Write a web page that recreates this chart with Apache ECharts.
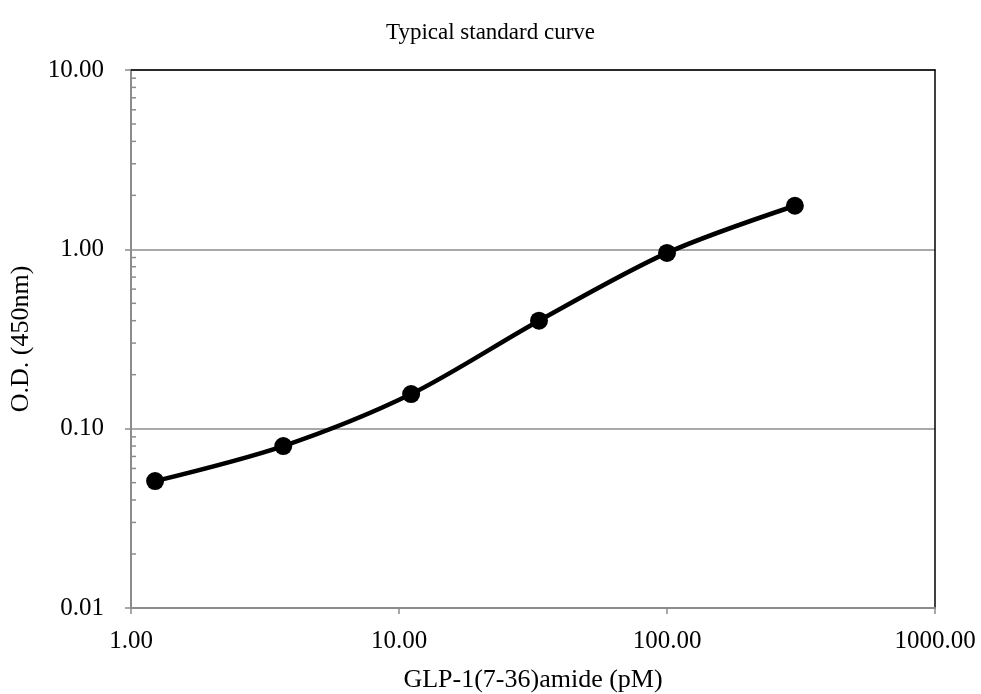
<!DOCTYPE html>
<html>
<head>
<meta charset="utf-8">
<script src="https://cdn.jsdelivr.net/npm/echarts@6/dist/echarts.min.js"></script>
<style>
  html, body { margin: 0; padding: 0; background: #fff; }
  #chart { width: 981px; height: 694px; }
</style>
</head>
<body>
<div id="chart"></div>
<script>
const concentration = [1.23, 3.70, 11.1, 33.3, 100, 300];   // pM
const odValues = [0.051, 0.080, 0.156, 0.40, 0.955, 1.75];  // O.D. 450nm
const yDecades = [0.01, 0.1, 1];

// minor ticks on the y axis (2..9 of each decade)
const minorTicks = [];
yDecades.forEach(d => {
    for (let k = 2; k <= 9; k++) minorTicks.push([1, d * k]);
});

const serif = '"Liberation Serif", "DejaVu Serif", serif';
const grey = '#8c8c8c';
const fmt = v => Number(v).toFixed(2);

const chart = echarts.init(document.getElementById('chart'));

chart.setOption({
    animation: false,
    title: {
        text: 'Typical standard curve',
        left: 'center',
        top: 16,
        textStyle: { fontFamily: serif, fontSize: 23, fontWeight: 'normal', color: '#000' }
    },
    grid: { left: 131, right: 46, top: 70, bottom: 86, outerBoundsMode: 'none', containLabel: false },
    xAxis: [
        {
            type: 'log',
            logBase: 10,
            min: 1,
            max: 1000,
            name: 'GLP-1(7-36)amide (pM)',
            nameLocation: 'middle',
            nameGap: 59,
            nameTextStyle: { fontFamily: serif, fontSize: 26, color: '#000' },
            axisLine: { lineStyle: { color: grey, width: 2 } },
            axisTick: { length: 6, lineStyle: { color: grey, width: 1.5 } },
            axisLabel: { margin: 21, fontFamily: serif, fontSize: 25, color: '#000', formatter: fmt },
            splitLine: { show: false }
        },
        {
            type: 'log', logBase: 10, min: 1, max: 1000, position: 'top',
            axisLine: { lineStyle: { color: '#000', width: 1.5 } },
            axisTick: { show: false }, axisLabel: { show: false }, splitLine: { show: false }
        }
    ],
    yAxis: [
        {
            type: 'log',
            logBase: 10,
            min: 0.01,
            max: 10,
            name: 'O.D. (450nm)',
            nameLocation: 'middle',
            nameGap: 97,
            nameRotate: 90,
            nameTextStyle: { fontFamily: serif, fontSize: 26, color: '#000' },
            axisLine: { lineStyle: { color: grey, width: 2 } },
            axisTick: { length: 6, lineStyle: { color: grey, width: 1.5 } },
            axisLabel: { margin: 27, fontFamily: serif, fontSize: 25, color: '#000', formatter: fmt },
            splitLine: { show: true, lineStyle: { color: grey, width: 1.5 } }
        },
        {
            type: 'log', logBase: 10, min: 0.01, max: 10, position: 'right',
            axisLine: { lineStyle: { color: '#000', width: 1.5 } },
            axisTick: { show: false }, axisLabel: { show: false }, splitLine: { show: false }
        }
    ],
    series: [
        {
            type: 'custom',
            silent: true,
            data: minorTicks,
            renderItem: (params, api) => {
                const p = api.coord([api.value(0), api.value(1)]);
                return {
                    type: 'line',
                    shape: { x1: p[0], y1: p[1], x2: p[0] + 5, y2: p[1] },
                    style: { stroke: grey, lineWidth: 1.5 }
                };
            }
        },
        {
            type: 'line',
            data: concentration.map((c, i) => [c, odValues[i]]),
            smooth: 0.3,
            symbol: 'circle',
            symbolSize: 18,
            itemStyle: { color: '#000' },
            lineStyle: { color: '#000', width: 4.5 },
            z: 5
        }
    ]
});
</script>
</body>
</html>
